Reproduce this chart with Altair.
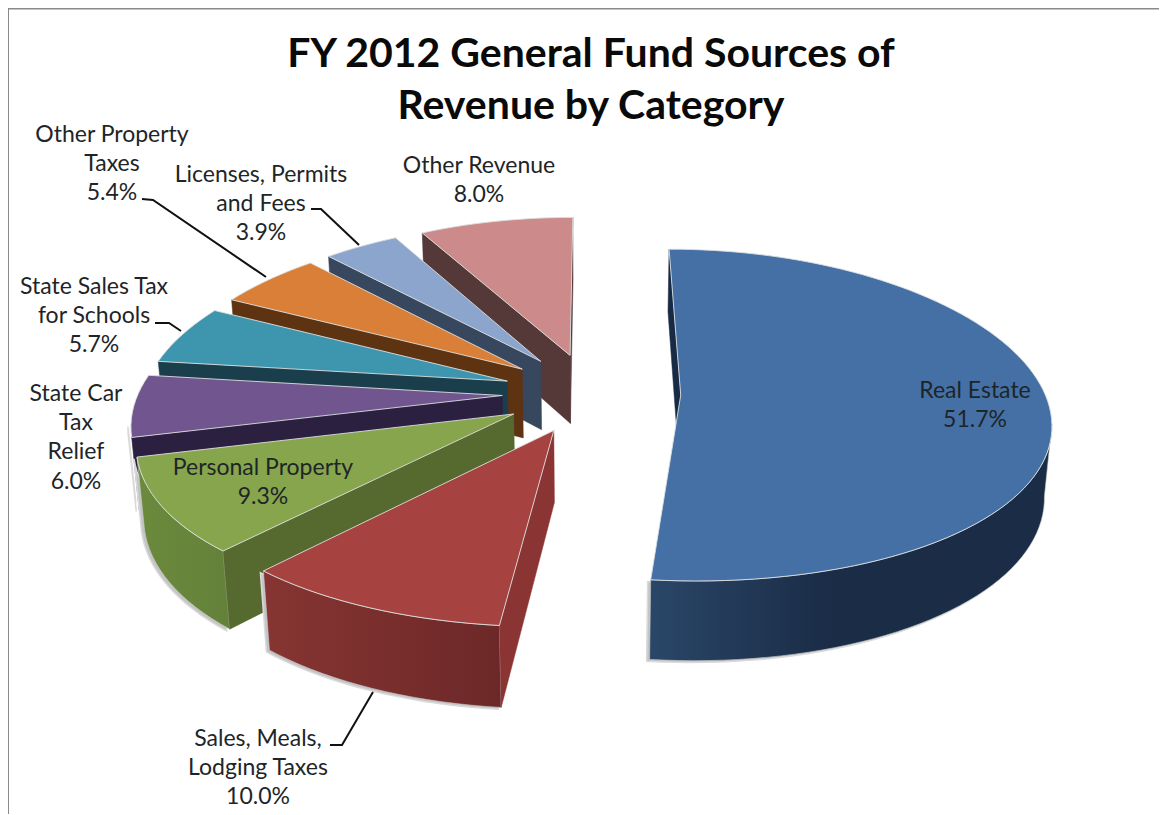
import math
import altair as alt
import pandas as pd

# ---- data
categories = ["Real Estate", "Sales, Meals, Lodging Taxes", "Personal Property", "State Car Tax Relief",
              "State Sales Tax for Schools", "Other Property Taxes", "Licenses, Permits and Fees", "Other Revenue"]
shares = [51.7, 10.0, 9.3, 6.0, 5.7, 5.4, 3.9, 8.0]
top_colors = ["#4470A5", "#A64341", "#87A54C", "#70558E", "#3D96AE", "#D97F38", "#8CA5CC", "#CC8B8A"]
wall_left = ["#2A4668", "#863532", "#6C8A3C", "#2C2040", "#1A3E4C", "#5E3312", "#36475E", "#553938"]
wall_right = ["#1A2C46", "#6C2828", "#64813A", "#2C2040", "#1A3E4C", "#5E3312", "#36475E", "#553938"]
radial_colors = ["#182B45", "#8A3533", "#56692E", "#2C2040", "#1A3E4C", "#5E3312", "#36475E", "#553938"]
paint_order = [7, 6, 5, 4, 3, 2, 1, 0]

title_lines = ["FY 2012 General Fund Sources of", "Revenue by Category"]
label_lines = [
    ["Real Estate", "51.7%"],
    ["Sales, Meals,", "Lodging Taxes", "10.0%"],
    ["Personal Property", "9.3%"],
    ["State Car", "Tax", "Relief", "6.0%"],
    ["State Sales Tax", "for Schools", "5.7%"],
    ["Other Property", "Taxes", "5.4%"],
    ["Licenses, Permits", "and Fees", "3.9%"],
    ["Other Revenue", "8.0%"],
]

# ---- layout (separate from the data): centre of each label's first line, and leader lines
W, H = 1151, 806
X0, Y0 = 8, 8
label_anchor = [(975, 391), (258, 739), (263, 468), (76, 394), (94, 287), (112, 135), (261, 175), (479, 166)]
line_step = 29.2
leaders = [
    [(142, 199), (153, 200), (266, 277)],
    [(311, 209), (321, 209), (359, 245)],
    [(155, 323), (169, 323), (181, 331)],
    [(330, 745), (342, 745), (373, 692)],
]

# ---- projection of the tilted, exploded pie
CX, CY = 591.5, 393.0
A, B = 364.0, 163.0
KX, KY = 0.15, 0.12
EXPLODE = 0.245
DEPTH = 70.0
KZ = 0.016
SHADOW = 3.0


def project(px, py, z):
    return CX + A * px / (1 + KX * py + KZ * z), CY + (-B * py + DEPTH * z) / (1 + KY * py)


def slice_geometry(a0, a1):
    m = math.radians((a0 + a1) / 2)
    ax, ay = EXPLODE * math.sin(m), EXPLODE * math.cos(m)
    n = max(8, int((a1 - a0) / 2))
    rim = []
    for j in range(n + 1):
        t = math.radians(a0 + (a1 - a0) * j / n)
        rim.append((ax + math.sin(t), ay + math.cos(t)))
    return (ax, ay), rim


def polygon(points):
    closed = list(points) + [points[0]]
    return pd.DataFrame({"x": [p[0] for p in closed], "y": [p[1] for p in closed], "i": range(len(closed))})


xs = alt.X("x:Q", scale=alt.Scale(domain=[X0, X0 + W], nice=False, zero=False), axis=None)
ys = alt.Y("y:Q", scale=alt.Scale(domain=[Y0 + H, Y0], nice=False, zero=False), axis=None)


def face(points, fill, stroke, sw):
    return alt.Chart(polygon(points)).mark_line(fill=fill, stroke=stroke, strokeWidth=sw, interpolate="linear").encode(
        x=xs, y=ys, order="i:Q")


def radial_visible(apex, end, material):
    # a radial wall shows when moving straight down the screen leaves the slice's top face
    dx, dy = end[0] - apex[0], end[1] - apex[1]
    mx, my = material[0] - apex[0], material[1] - apex[1]
    return dx * (dx * my - dy * mx) < 0


angles = [0.0]
for s in shares:
    angles.append(angles[-1] + s * 3.6)

layers = []
EDGE = "#DDE0E0"
for idx in paint_order:
    a0, a1 = angles[idx], angles[idx + 1]
    (ax, ay), rim = slice_geometry(a0, a1)
    apex_t, apex_b = project(ax, ay, 0), project(ax, ay, 1)
    first, last, mid = rim[0], rim[-1], rim[len(rim) // 2]

    front = [p for j, p in enumerate(rim)
             if (j + 1 < len(rim) and project(*rim[j + 1], 0)[0] < project(*p, 0)[0])
             or (j > 0 and project(*p, 0)[0] < project(*rim[j - 1], 0)[0])]
    if len(front) >= 2:
        wall = [project(*p, 0) for p in front] + [project(*p, 1) for p in reversed(front)]
        shadow = [(x - SHADOW, y + SHADOW * 0.6) for x, y in wall]
        layers.append(face(shadow, "#C4C4C4", "#DADADA", 1.5))
        stops = [alt.GradientStop(color=wall_left[idx], offset=0)]
        if idx == 0:
            stops.append(alt.GradientStop(color=wall_right[idx], offset=0.45))
        stops.append(alt.GradientStop(color=wall_right[idx], offset=1))
        grad = alt.LinearGradient(gradient="linear", x1=0, x2=1, y1=0, y2=0, stops=stops)
        layers.append(face(wall, grad, "#C8CCCC", 0.6))
    for end in (first, last):
        if radial_visible(apex_t, project(*end, 0), project(*mid, 0)):
            layers.append(face([apex_t, project(*end, 0), project(*end, 1), apex_b],
                               radial_colors[idx], radial_colors[idx], 0.5))
    top = [apex_t] + [project(*p, 0) for p in rim]
    layers.append(face(top, top_colors[idx], EDGE, 0.9))

# frame
frame = pd.DataFrame({"x": [1160, 8, 8], "y": [8.5, 8.5, 814], "i": [0, 1, 2]})
layers.insert(0, alt.Chart(frame).mark_line(stroke="#8A8A8A", strokeWidth=2).encode(x=xs, y=ys, order="i:Q"))

# leaders
for pts in leaders:
    df = pd.DataFrame({"x": [p[0] for p in pts], "y": [p[1] for p in pts], "i": range(len(pts))})
    layers.append(alt.Chart(df).mark_line(stroke="#111111", strokeWidth=2).encode(x=xs, y=ys, order="i:Q"))

# labels
FONT = "Lato"
rows = []
for lines, (lx, ly) in zip(label_lines, label_anchor):
    for j, t in enumerate(lines):
        rows.append({"x": lx, "y": ly + j * line_step, "t": t})
layers.append(alt.Chart(pd.DataFrame(rows)).mark_text(font=FONT, fontSize=23, color="#1E2528", align="center", baseline="middle").encode(
    x=xs, y=ys, text="t:N"))

trows = [{"x": 591, "y": 55, "t": title_lines[0]}, {"x": 591, "y": 107, "t": title_lines[1]}]
layers.append(alt.Chart(pd.DataFrame(trows)).mark_text(font=FONT, fontSize=41, fontWeight="bold", color="#0A0A0A", align="center", baseline="middle").encode(
    x=xs, y=ys, text="t:N"))

chart = alt.layer(*layers).properties(
    width=W, height=H, padding=0, autosize=alt.AutoSizeParams(type="none"), background="white"
).configure_view(stroke=None)

chart.save("out.html", embed_options={"renderer": "svg", "actions": False})
